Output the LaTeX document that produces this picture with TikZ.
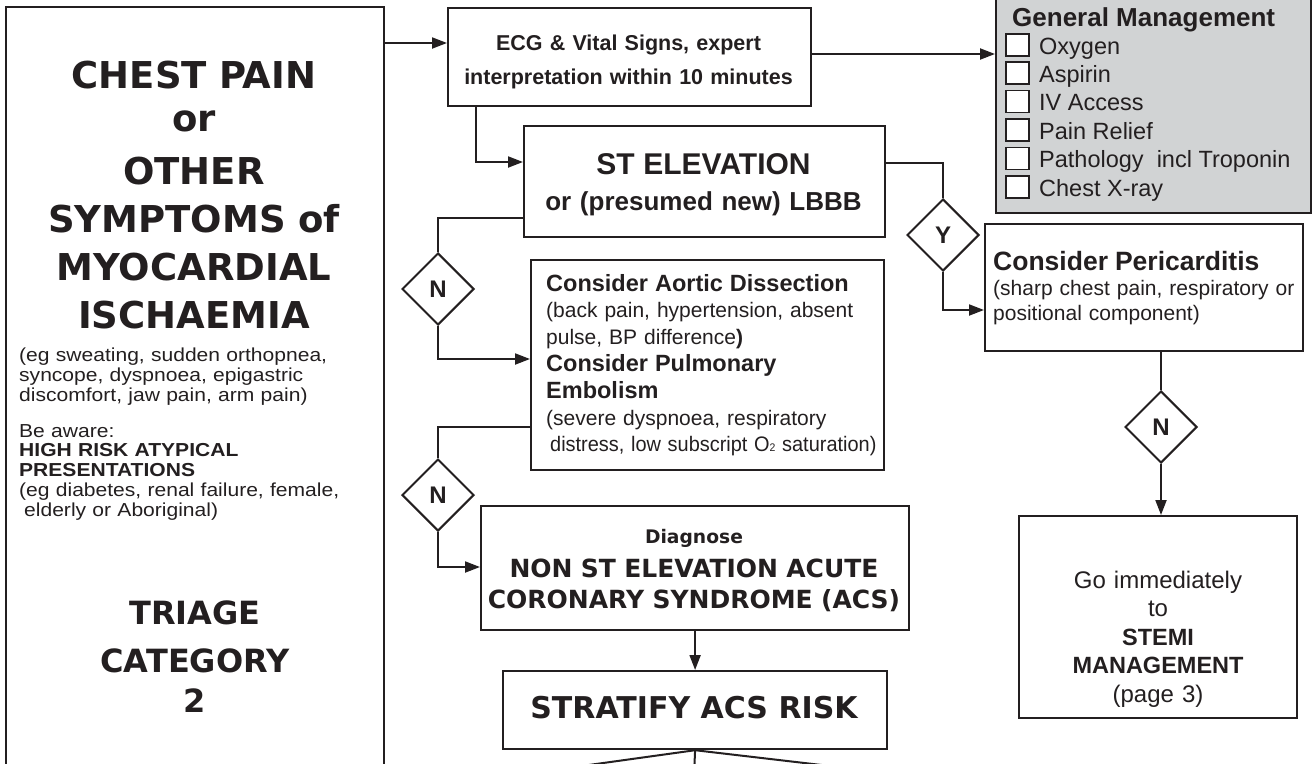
\documentclass[tikz,border=0pt]{standalone}
\usepackage{fontspec}
\usepackage{graphicx}
\setmainfont{Liberation Sans}
\newfontfamily\heavyfont{DejaVu Sans}
\newfontfamily\widefont{Liberation Sans}[FakeStretch=1.12]
\usetikzlibrary{shapes.geometric,arrows.meta}
\definecolor{ink}{HTML}{231F20}
\definecolor{gmgray}{HTML}{D1D3D4}
\newcommand{\fs}[2]{\fontsize{#1}{#2}\selectfont}
\begin{document}
\begin{tikzpicture}[x=1pt,y=-1pt,
  box/.style={draw=ink, line width=2.2pt, rectangle, inner sep=0pt, anchor=north west},
  dia/.style={draw=ink, line width=2pt, diamond, aspect=1, minimum width=72pt, minimum height=72pt, inner sep=0pt, fill=white, text=ink, font=\bfseries\fs{24}{28}},
  conn/.style={draw=ink, line width=2pt},
  arr/.style={conn, -{Triangle[length=15pt,width=11pt]}},
  txt/.style={inner sep=0pt, text=ink},
  ]
\useasboundingbox (0,0) rectangle (1316,763);
\clip (0,0) rectangle (1316,763);

% left box
\node[box, minimum width=378pt, minimum height=800pt] (L) at (5,6) {};
\node[txt, text width=370pt, align=center, anchor=base, font=\heavyfont\bfseries\fs{37}{48}] (Ltitle) at (194,88)
  {CHEST PAIN\\[-5pt] or\\[5pt] OTHER\\ SYMPTOMS of\\ MYOCARDIAL\\ ISCHAEMIA};
\node[txt, text width=400pt, align=left, anchor=base west, font=\widefont\fs{18.8}{20.3}] (Lsym) at (19,361)
  {(eg sweating, sudden orthopnea,\\ syncope, dyspnoea, epigastric\\ discomfort, jaw pain, arm pain)};
\node[txt, text width=400pt, align=left, anchor=base west, font=\widefont\fs{18.8}{19.8}] (Laware) at (19,437)
  {Be aware:\\ \textbf{HIGH RISK ATYPICAL}\\ \textbf{PRESENTATIONS}\\ (eg diabetes, renal failure, female,\\ \hspace*{5pt}elderly or Aboriginal)};
\node[txt, text width=370pt, align=center, anchor=base, font=\heavyfont\bfseries\fs{32}{48}] (Ltri) at (195,624)
  {TRIAGE\\ CATEGORY\\[-8pt] 2};

% ECG
\node[box, minimum width=363pt, minimum height=98pt] (ecg) at (447,7) {};
\node[txt, text width=360pt, align=center, anchor=base, font=\bfseries\fs{21.5}{34}] (ecgT) at (628.5,50)
  {ECG \& Vital Signs, expert\\ interpretation within 10 minutes};

% General management
\node[box, fill=gmgray, minimum width=315pt, minimum height=216pt] (gm) at (995,-4) {};
\node[txt, anchor=base west, font=\bfseries\fs{26}{28}] (gmT) at (1012,26) {General Management};
\foreach \i/\t in {0/Oxygen,1/Aspirin,2/IV Access,3/Pain Relief,4/Pathology\ \ incl Troponin,5/Chest X-ray} {
  \node[draw=ink, line width=1.5pt, fill=white, inner sep=0pt, minimum width=23pt, minimum height=22pt, anchor=north west] (cb\i) at (1005,{33+28.4*\i}) {};
  \node[txt, anchor=base west, font=\fs{23.5}{28}] (cbt\i) at (1039,{54+28.4*\i}) {\t};
}

% ST elevation
\node[box, minimum width=361pt, minimum height=111pt] (st) at (523,125) {};
\node[txt, text width=355pt, align=center, anchor=base, font=\bfseries\fs{26}{36}] (stT) at (703.5,174)
  {{\fs{30}{36}ST ELEVATION}\\ or (presumed new) LBBB};

% Aortic / PE
\node[box, minimum width=353pt, minimum height=210pt] (aor) at (530,259) {};
\node[txt, text width=400pt, align=left, anchor=base west, font=\fs{21}{26.8}] (aorT) at (546,291)
  {\textbf{\fs{23.5}{26.8}Consider Aortic Dissection}\\
   (back pain, hypertension, absent\\
   pulse, BP difference\textbf{)}\\
   \textbf{\fs{23.5}{26.8}Consider Pulmonary}\\
   \textbf{\fs{23.5}{26.8}Embolism}\\
   (severe dyspnoea, respiratory\\
   \hspace*{4pt}\scalebox{0.95}[1]{distress, low subscript O{\fs{11}{12}2} saturation)}};

% Pericarditis
\node[box, minimum width=318pt, minimum height=127pt] (per) at (984,223) {};
\node[txt, text width=400pt, align=left, anchor=base west, font=\fs{21}{25}] (perT) at (993,270)
  {\textbf{\fs{26.5}{25}Consider Pericarditis}\\ (sharp chest pain, respiratory or\\ positional component)};

% NSTE-ACS
\node[box, minimum width=428pt, minimum height=124pt] (nst) at (480,505) {};
\node[txt, text width=520pt, align=center, anchor=base, font=\heavyfont\bfseries\fs{25}{31}] (nstT) at (694,543)
  {{\fs{18.7}{31}Diagnose}\\[3pt] NON ST ELEVATION ACUTE\\ CORONARY SYNDROME (ACS)};

% Stratify
\node[box, minimum width=384pt, minimum height=78pt] (strat) at (502,670) {};
\node[txt, anchor=base, font=\heavyfont\bfseries\fs{30}{36}] (stratT) at (694,718) {STRATIFY ACS RISK};

% Go immediately
\node[box, minimum width=278pt, minimum height=202pt] (go) at (1018,515) {};
\node[txt, text width=265pt, align=center, anchor=base, font=\fs{24}{28.5}] (goT) at (1158,588)
  {Go immediately\\ to\\ \textbf{\fs{23.5}{28.5}STEMI}\\ \textbf{\fs{23.5}{28.5}MANAGEMENT}\\ (page 3)};

% diamonds
\node[dia] (n1) at (438,289) {N};
\node[dia] (n2) at (438,495) {N};
\node[dia] (y1) at (943,235) {Y};
\node[dia] (n3) at (1161,427) {N};

% connectors
\draw[arr] (L.east |- 0,43) -- (ecg.west |- 0,43);
\draw[arr] (ecg.east |- 0,54) -- (gm.west |- 0,54);
\draw[arr] (ecg.south -| 476,0) |- (st.west |- 0,162);
\draw[conn] (st.west |- 0,218) -| (n1.north);
\draw[arr] (n1.south) |- (aor.west |- 0,359);
\draw[conn] (st.east |- 0,163) -| (y1.north);
\draw[arr] (y1.south) |- (per.west |- 0,310);
\draw[conn] (aor.west |- 0,427) -| (n2.north);
\draw[arr] (n2.south) |- (nst.west |- 0,567);
\draw[arr] (nst.south -| strat.north) -- (strat.north);
\draw[conn] (per.south -| n3.north) -- (n3.north);
\draw[arr] (n3.south) -- (go.north -| n3.south);
\coordinate (bl) at (517,775);
\coordinate (bm) at (694,775);
\coordinate (br) at (907,775);
\draw[conn] (strat.south) -- (bl);
\draw[conn] (strat.south) -- (bm);
\draw[conn] (strat.south) -- (br);
\end{tikzpicture}
\end{document}
